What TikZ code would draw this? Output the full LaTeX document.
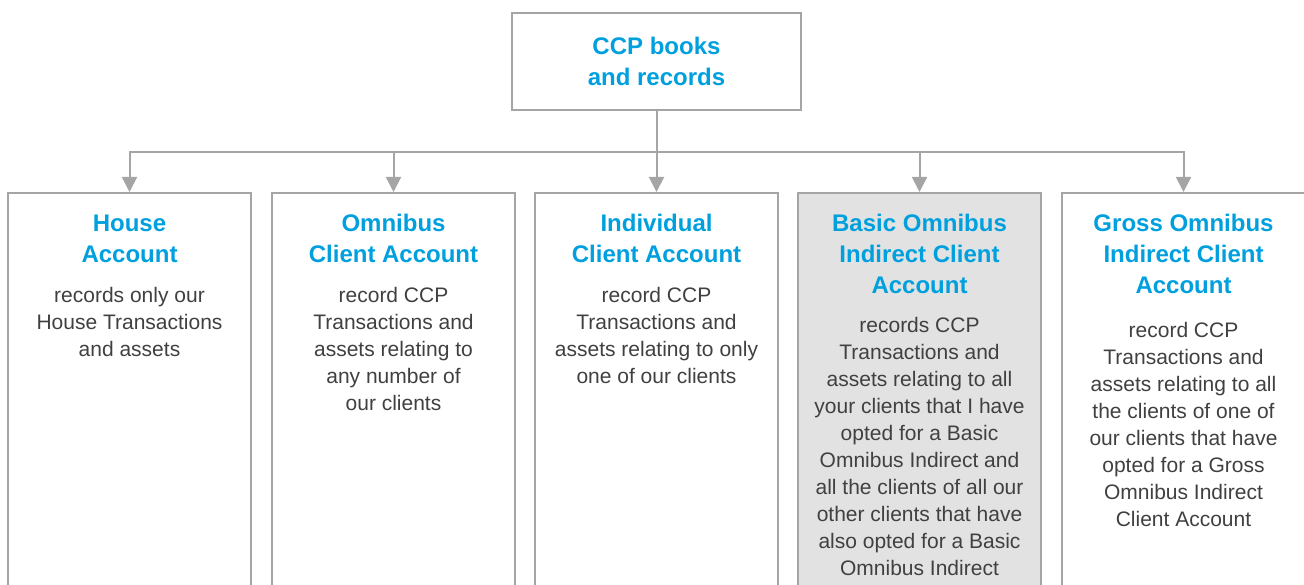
\documentclass[tikz,border=0pt]{standalone}
\usepackage{fontspec}
\setmainfont{Liberation Sans}
\usetikzlibrary{arrows.meta}
\definecolor{linegray}{HTML}{A5A5A5}
\definecolor{titleblue}{HTML}{00A0DF}
\definecolor{bodygray}{HTML}{404040}
\definecolor{boxfill}{HTML}{E1E2E1}
\begin{document}
\begin{tikzpicture}[x=1pt,y=-1pt,
  box/.style={draw=linegray, line width=2pt, minimum width=243pt, minimum height=430pt, anchor=north, inner sep=0pt},
  ttl/.style={font=\fontsize{24}{31}\selectfont\bfseries, text=titleblue, align=center, anchor=base, inner sep=0pt},
  body/.style={font=\fontsize{21}{27}\selectfont, text=bodygray, align=center, anchor=base, inner sep=0pt},
  conn/.style={draw=linegray, line width=2pt},
  arr/.style={conn, -{Triangle[width=15pt,length=15pt]}}]
\path[use as bounding box, clip] (0,0) rectangle (1304,585);
\node[draw=linegray, line width=2pt, minimum width=289pt, minimum height=97pt, inner sep=0pt] (top) at (656.5,61.5) {};
\node[ttl] (tt) at (656.5,86) {CCP books\\and records};
\node[box] (b1) at (129.5,192) {};
\node[box] (b2) at (393.5,192) {};
\node[box] (b3) at (656.5,192) {};
\node[box, fill=boxfill] (b4) at (919.5,192) {};
\node[box] (b5) at (1183.5,192) {};
\coordinate (j) at (656.5,152);
\draw[conn] (top.south) -- (j);
\draw[arr] (j) -| (b1.north);
\draw[arr] (j) -| (b2.north);
\draw[arr] (j) -- (b3.north);
\draw[arr] (j) -| (b4.north);
\draw[arr] (j) -| (b5.north);
\node[ttl] (t1) at (129.5,263) {House\\Account};
\node[body] (d1) at (129.5,356) {records only our\\House Transactions\\and assets};
\node[ttl] (t2) at (393.5,263) {Omnibus\\Client Account};
\node[body] (d2) at (393.5,410) {record CCP\\Transactions and\\assets relating to\\any number of\\our clients};
\node[ttl] (t3) at (656.5,263) {Individual\\Client Account};
\node[body] (d3) at (656.5,383) {record CCP\\Transactions and\\assets relating to only\\one of our clients};
\node[ttl] (t4) at (919.5,293.5) {Basic Omnibus\\Indirect Client\\Account};
\node[body] (d4) at (919.5,575) {records CCP\\Transactions and\\assets relating to all\\your clients that I have\\opted for a Basic\\Omnibus Indirect and\\all the clients of all our\\other clients that have\\also opted for a Basic\\Omnibus Indirect};
\node[ttl] (t5) at (1183.5,293.5) {Gross Omnibus\\Indirect Client\\Account};
\node[body] (d5) at (1183.5,526) {record CCP\\Transactions and\\assets relating to all\\the clients of one of\\our clients that have\\opted for a Gross\\Omnibus Indirect\\Client Account};
\end{tikzpicture}
\end{document}
